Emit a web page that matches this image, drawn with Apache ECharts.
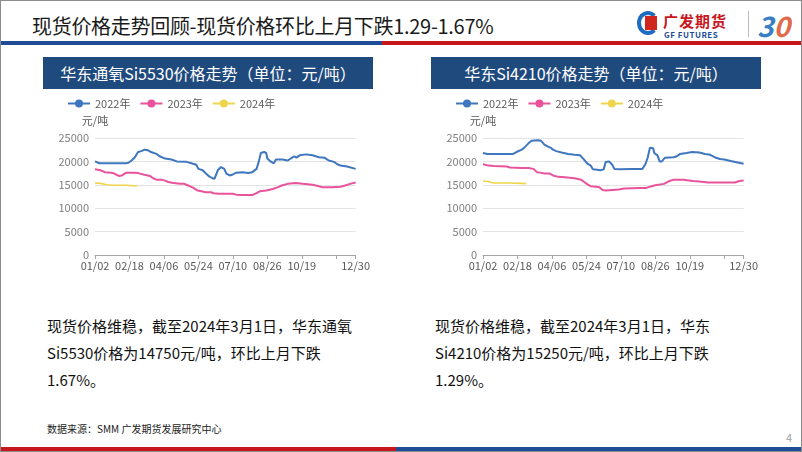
<!DOCTYPE html>
<html>
<head>
<meta charset="utf-8">
<script src="https://cdn.jsdelivr.net/npm/echarts@6/dist/echarts.min.js"></script>
<style>
  html, body { margin: 0; padding: 0; }
  body {
    width: 800px; height: 450px; position: relative; overflow: hidden;
    border: 1px solid #8c8c8c; background: #fff;
    font-family: "Noto Sans CJK SC", "Noto Sans", sans-serif;
  }
  .title { position: absolute; left: 31px; top: 10px; font-size: 20px; color: #1a1a1a; letter-spacing: -0.3px; }
  .bar { position: absolute; height: 4px; }
  .hd {
    position: absolute; top: 56px; width: 330px; height: 32px; background: #1f4a7e;
    color: #fff; font-size: 16px; line-height: 32px; text-align: center;
  }
  .chart { position: absolute; top: 88px; width: 330px; height: 186px; }
  .txt { position: absolute; top: 311px; font-size: 15px; line-height: 27px; color: #111; }
  .src { position: absolute; left: 46px; top: 420px; font-size: 10px; color: #222; }
  .pg { position: absolute; left: 785px; top: 428px; font-size: 11px; color: #a0a0a0; }
  .logo1 { position: absolute; left: 662px; top: 9px; font-size: 15px; font-weight: bold; color: #c8161d; letter-spacing: 1px; }
  .logo2 { position: absolute; left: 663px; top: 28px; font-size: 8px; font-weight: bold; color: #1e4c96; letter-spacing: 0.5px; }
  .icon { position: absolute; left: 636px; top: 10px; width: 22px; height: 24px; border-radius: 50%;
    border: 4px solid #1e6cc0; border-right-color: transparent; box-sizing: border-box; }
  .icon2 { position: absolute; left: 644px; top: 15px; width: 12px; height: 14px; background: #d0261d; }
  .sep { position: absolute; left: 747px; top: 10px; width: 1px; height: 26px; background: #bbb; }
  .thirty { position: absolute; left: 756px; top: 4px; font-size: 28px; font-weight: bold; color: #3a7fc4; font-style: italic; }
  .thirty span { color: #e06a4a; }
</style>
</head>
<body>
<div class="title">现货价格走势回顾-现货价格环比上月下跌1.29-1.67%</div>
<div class="icon"></div><div class="icon2"></div>
<div class="logo1">广发期货</div>
<div class="logo2">GF FUTURES</div>
<div class="sep"></div>
<div class="thirty">3<span>0</span></div>
<div class="bar" style="left:0;top:40px;width:381px;background:#1e4c96;"></div>
<div class="bar" style="left:381px;top:40px;width:420px;background:#c8161d;"></div>

<div class="hd" style="left:42px;">华东通氧Si5530价格走势（单位：元/吨）</div>
<div class="hd" style="left:430px;">华东Si4210价格走势（单位：元/吨）</div>
<div id="c1" class="chart" style="left:42px;"></div>
<div id="c2" class="chart" style="left:430px;"></div>

<div class="txt" style="left:46px;">现货价格维稳，截至2024年3月1日，华东通氧<br>Si5530价格为14750元/吨，环比上月下跌<br>1.67%。</div>
<div class="txt" style="left:434px;">现货价格维稳，截至2024年3月1日，华东<br>Si4210价格为15250元/吨，环比上月下跌<br>1.29%。</div>

<div class="src">数据来源：SMM 广发期货发展研究中心</div>
<div class="pg">4</div>
<div class="bar" style="left:0;top:446px;width:395px;background:#c8161d;"></div>
<div class="bar" style="left:395px;top:446px;width:406px;background:#1e4c96;"></div>

<script>
// x = trading-day index within the year, y = 元/吨
var xTickValues = [0, 32, 64, 96, 128, 160, 192, 224, 242]
var xTickLabels = ['01/02', '02/18', '04/06', '05/24', '07/10', '08/26', '10/19', '', '12/30']
var legendNames = ['2022年', '2023年', '2024年']

var si5530_2022 = [[0,20000],[4,19600],[29,19600],[31,19700],[34,20200],[37,20900],[38,21300],[40,22000],[43,22200],[46,22500],[49,22400],[52,22000],[57,21600],[60,21100],[65,20600],[71,20400],[76,20000],[85,19900],[91,19500],[94,19300],[96,18400],[100,18100],[103,17400],[106,16800],[109,16400],[111,16300],[112,16400],[114,18100],[117,18800],[120,18400],[122,17400],[125,17000],[128,17200],[131,17600],[137,17700],[142,17500],[146,17700],[150,18400],[152,19900],[154,21800],[157,22000],[159,21800],[160,20600],[163,20000],[166,19600],[168,20400],[174,20400],[179,20200],[183,20800],[185,21100],[187,20800],[190,21300],[196,21500],[202,21300],[203,21100],[208,20900],[213,20800],[217,20200],[222,19900],[225,19400],[228,19100],[234,18900],[242,18400]]
var si5530_2023 = [[0,18300],[5,18100],[9,17700],[15,17600],[18,17400],[22,16900],[25,17000],[29,17600],[36,17600],[40,17500],[45,17200],[51,16900],[54,16400],[57,16100],[62,16100],[65,15900],[68,15600],[73,15400],[79,15200],[83,15200],[86,14900],[91,14400],[95,13800],[99,13600],[103,13400],[108,13400],[110,13200],[115,13100],[128,13100],[131,12900],[137,12800],[146,12800],[149,13100],[153,13600],[159,13800],[165,14100],[170,14500],[174,14900],[179,15200],[186,15400],[193,15200],[202,15000],[208,14700],[211,14500],[220,14500],[228,14600],[233,14900],[237,15200],[242,15500]]
var si5530_2024 = [[0,15400],[5,15300],[11,15000],[17,14900],[29,14900],[39,14750]]

var si4210_2022 = [[0,21800],[4,21600],[28,21600],[31,22000],[36,22500],[39,23100],[42,23800],[45,24400],[51,24500],[54,24400],[57,23600],[60,23200],[63,22900],[65,22500],[68,22200],[73,21900],[79,21600],[85,21400],[90,21300],[93,20600],[97,19500],[100,19100],[102,18300],[106,18200],[109,18100],[112,18300],[114,19900],[117,20000],[120,19300],[122,18400],[128,18300],[137,18400],[148,18400],[151,19500],[153,20900],[155,22900],[158,22800],[159,21800],[162,21300],[164,20000],[166,20000],[169,20800],[177,20900],[180,21100],[183,21600],[189,21800],[194,22000],[201,21900],[206,21600],[211,21400],[215,20900],[220,20500],[224,20400],[232,20000],[242,19500]]
var si4210_2023 = [[0,19400],[5,19100],[10,19000],[22,18900],[25,18700],[36,18600],[42,18600],[47,18400],[50,17700],[53,17600],[57,17400],[62,17400],[65,17000],[70,16700],[76,16600],[85,16400],[91,16100],[94,15600],[97,15100],[100,14700],[105,14600],[108,14500],[111,13900],[114,13800],[120,13900],[126,14000],[131,14200],[146,14300],[151,14300],[155,14600],[160,14900],[168,15200],[172,15700],[177,16100],[186,16100],[195,15800],[201,15700],[209,15500],[234,15500],[238,15800],[242,15900]]
var si4210_2024 = [[0,15800],[4,15700],[10,15400],[24,15400],[36,15300],[40,15250]]

var colors = ['#3f77bf', '#e8539b', '#efd44c']

function makeOption(d22, d23, d24) {
  var lines = [d22, d23, d24].map(function (d, i) {
    return {
      name: legendNames[i],
      type: 'line',
      data: d,
      symbol: 'circle',
      symbolSize: 8,
      showSymbol: false,
      lineStyle: { width: i === 2 ? 1.6 : 2, color: colors[i] },
      itemStyle: { color: colors[i] }
    }
  })
  return {
    animation: false,
    textStyle: { fontFamily: 'Noto Sans CJK SC' },
    legend: {
      left: 19, top: 4,
      itemWidth: 22, itemHeight: 10, itemGap: 9,
      textStyle: { fontSize: 11, color: '#595959' },
      data: legendNames
    },
    grid: { left: 52, right: 16, top: 49, bottom: 20 },
    xAxis: {
      type: 'value',
      min: 0, max: 242, interval: 32,
      axisLine: { lineStyle: { color: '#a6a6a6' } },
      axisTick: { show: true, length: 4, lineStyle: { color: '#a6a6a6' } },
      splitLine: { show: false },
      axisLabel: {
        fontSize: 11, color: '#595959', margin: 5, showMaxLabel: true,
        formatter: function (v) {
          var k = xTickValues.indexOf(v)
          return k >= 0 ? xTickLabels[k] : ''
        }
      }
    },
    yAxis: {
      type: 'value',
      min: 0, max: 25000, interval: 5000,
      name: '元/吨',
      nameGap: 12,
      nameTextStyle: { fontSize: 11, color: '#595959', align: 'center' },
      axisLine: { show: false },
      axisTick: { show: false },
      axisLabel: {
        fontSize: 11, color: '#7f7f7f', margin: 6,
        formatter: function (v) { return String(v) }
      },
      splitLine: { lineStyle: { color: '#e3e3e3' } }
    },
    series: lines
  }
}

var chart1 = echarts.init(document.getElementById('c1'))
chart1.setOption(makeOption(si5530_2022, si5530_2023, si5530_2024))
var chart2 = echarts.init(document.getElementById('c2'))
chart2.setOption(makeOption(si4210_2022, si4210_2023, si4210_2024))
</script>
</body>
</html>
